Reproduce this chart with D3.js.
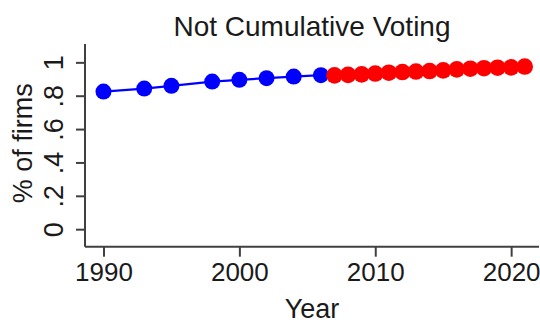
<!DOCTYPE html>
<html>
<head>
<meta charset="utf-8">
<script src="https://cdn.jsdelivr.net/npm/d3@7"></script>
<style>
  html, body { margin: 0; padding: 0; background: #fff; }
  svg { display: block; font-family: "Liberation Sans", Arial, sans-serif; }
</style>
</head>
<body>
<svg id="chart" width="540" height="325"></svg>
<script>
// Share of firms without cumulative voting, by year
const earlyYears = [1990, 1993, 1995, 1998, 2000, 2002, 2004, 2006];
const earlyShare = [0.825, 0.843, 0.859, 0.885, 0.895, 0.905, 0.915, 0.923];
const lateYears = [2007, 2008, 2009, 2010, 2011, 2012, 2013, 2014, 2015, 2016, 2017, 2018, 2019, 2020, 2021];
const lateShare = [0.922, 0.925, 0.928, 0.933, 0.938, 0.942, 0.945, 0.948, 0.952, 0.958, 0.962, 0.965, 0.968, 0.970, 0.975];
const xTicks = [1990, 2000, 2010, 2020];
const yTicks = [0, 0.2, 0.4, 0.6, 0.8, 1];
const yTickLabels = ["0", ".2", ".4", ".6", ".8", "1"];

const svg = d3.select("#chart");
const plot = { left: 85, right: 539, top: 44, bottom: 246.7 };

const x = d3.scaleLinear().domain([1988.64, 2022.05]).range([plot.left, plot.right]);
const y = d3.scaleLinear().domain([-0.105, 1.11]).range([plot.bottom, plot.top]);

const axisColor = "#404040";
const textColor = "#1a1a1a";

// Title
svg.append("text")
  .attr("x", (plot.left + plot.right) / 2).attr("y", 36)
  .attr("text-anchor", "middle")
  .attr("font-size", 28).attr("fill", textColor)
  .text("Not Cumulative Voting");

// X axis
const xAxis = svg.append("g")
  .attr("transform", `translate(0,${plot.bottom})`)
  .call(d3.axisBottom(x).tickValues(xTicks).tickFormat(d3.format("d")).tickSize(10).tickPadding(6));
xAxis.select(".domain").attr("stroke", axisColor).attr("stroke-width", 2)
  .attr("d", `M${plot.left},0H${plot.right}`);
xAxis.selectAll(".tick line").attr("stroke", axisColor).attr("stroke-width", 2);
xAxis.selectAll(".tick text").attr("font-size", 26).attr("fill", textColor)
  .attr("font-family", "Liberation Sans, Arial, sans-serif");

// Y axis
const yAxis = svg.append("g")
  .attr("transform", `translate(${plot.left},0)`)
  .call(d3.axisLeft(y).tickValues(yTicks).tickFormat((d, i) => yTickLabels[i]).tickSize(9));
yAxis.select(".domain").attr("stroke", axisColor).attr("stroke-width", 2)
  .attr("d", `M0,${plot.top}V${plot.bottom}`);
yAxis.selectAll(".tick line").attr("stroke", axisColor).attr("stroke-width", 2);
yAxis.selectAll(".tick text")
  .attr("font-size", 27).attr("fill", textColor)
  .attr("font-family", "Liberation Sans, Arial, sans-serif")
  .attr("x", 0).attr("dy", null).attr("y", 0)
  .attr("text-anchor", "middle")
  .attr("transform", "translate(-22,0) rotate(-90)");

// Axis titles
svg.append("text")
  .attr("x", (plot.left + plot.right) / 2).attr("y", 318)
  .attr("text-anchor", "middle")
  .attr("font-size", 27).attr("fill", textColor)
  .text("Year");

svg.append("text")
  .attr("transform", `translate(32,${(plot.top + plot.bottom) / 2 - 2}) rotate(-90)`)
  .attr("text-anchor", "middle")
  .attr("font-size", 27).attr("fill", textColor)
  .text("% of firms");

// Early series: connected blue markers
const early = earlyYears.map((yr, i) => ({ yr, v: earlyShare[i] }));
const late = lateYears.map((yr, i) => ({ yr, v: lateShare[i] }));

svg.append("path")
  .datum(early)
  .attr("fill", "none").attr("stroke", "#0000ff").attr("stroke-width", 2.2)
  .attr("d", d3.line().x(d => x(d.yr)).y(d => y(d.v)));

svg.append("g").selectAll("circle").data(early).join("circle")
  .attr("cx", d => x(d.yr)).attr("cy", d => y(d.v)).attr("r", 8)
  .attr("fill", "#0000ff");

// Later series: red markers
svg.append("g").selectAll("circle").data(late).join("circle")
  .attr("cx", d => x(d.yr)).attr("cy", d => y(d.v)).attr("r", 8.3)
  .attr("fill", "#ff0000");
</script>
</body>
</html>
